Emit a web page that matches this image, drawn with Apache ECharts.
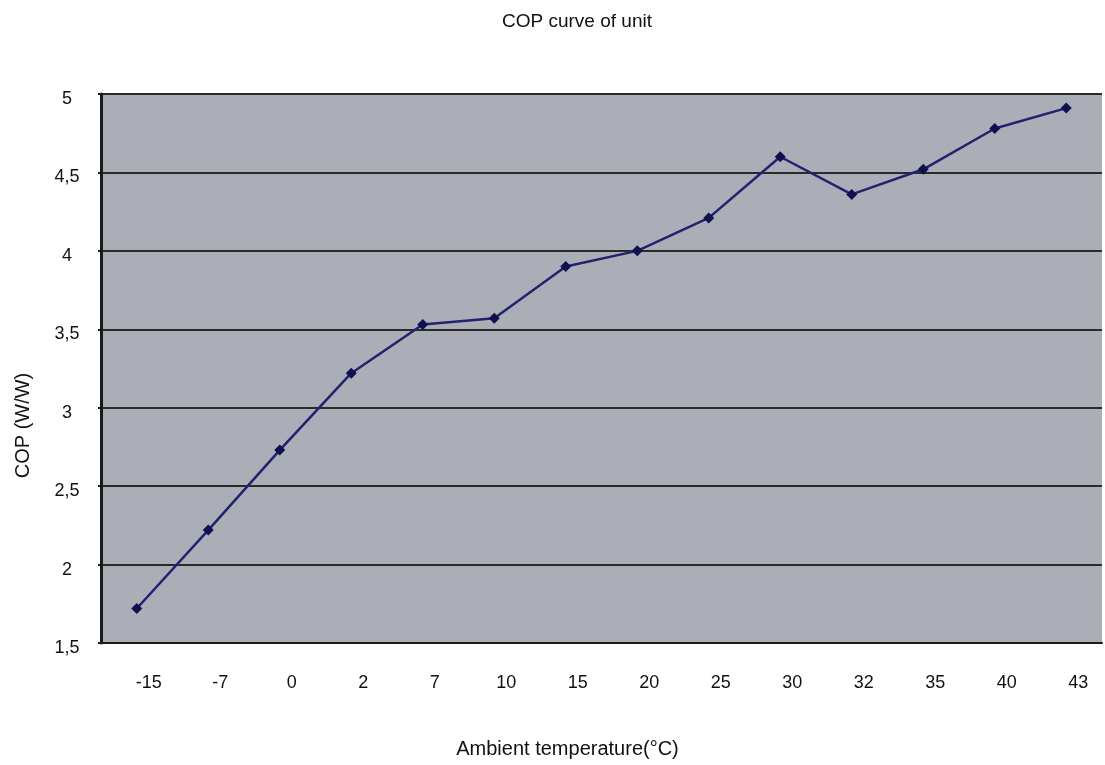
<!DOCTYPE html>
<html>
<head>
<meta charset="utf-8">
<script src="https://cdn.jsdelivr.net/npm/echarts@6/dist/echarts.min.js"></script>
<style>
html,body{margin:0;padding:0;background:#fff;}
#chart{width:1105px;height:765px;}
</style>
</head>
<body>
<div id="chart"></div>
<script>
const categories = ['-15', '-7', '0', '2', '7', '10', '15', '20', '25', '30', '32', '35', '40', '43'];
const copValues = [1.72, 2.22, 2.73, 3.22, 3.53, 3.57, 3.90, 4.00, 4.21, 4.60, 4.36, 4.52, 4.78, 4.91];
const yTicks = [1.5, 2, 2.5, 3, 3.5, 4, 4.5, 5];

const chart = echarts.init(document.getElementById('chart'));
const font = 'Liberation Sans, Arial, sans-serif';
chart.setOption({
  backgroundColor: '#ffffff',
  animation: false,
  title: {
    text: 'COP curve of unit',
    left: 502,
    top: 12,
    padding: 0,
    textStyle: { fontFamily: font, fontSize: 19, fontWeight: 'normal', color: '#111' }
  },
  grid: { left: 101, right: 3, top: 94, bottom: 122, show: true, backgroundColor: '#abaeb7', borderWidth: 0 },
  xAxis: {
    type: 'category',
    data: categories,
    boundaryGap: true,
    name: 'Ambient temperature(°C)',
    nameLocation: 'middle',
    nameGap: 96,
    nameTextStyle: { fontFamily: font, fontSize: 20, color: '#111', padding: [0, 68, 0, 0] },
    axisLine: { lineStyle: { color: '#1a1a1a', width: 2 } },
    axisTick: { inside: true, length: 7, lineStyle: { color: '#1a1a1a', width: 2 } },
    axisLabel: { fontFamily: font, fontSize: 18, color: '#111', margin: 31, padding: [0, 0, 0, 24] },
    splitLine: { show: false }
  },
  yAxis: {
    type: 'value',
    min: yTicks[0],
    max: yTicks[yTicks.length - 1],
    interval: 0.5,
    name: 'COP (W/W)',
    nameLocation: 'middle',
    nameRotate: 90,
    nameGap: 68,
    nameTextStyle: { fontFamily: font, fontSize: 20, color: '#111', padding: [0, 114, 0, 0] },
    axisLine: { show: true, lineStyle: { color: '#1a1a1a', width: 3 } },
    axisTick: { show: true, length: 3, lineStyle: { color: '#1a1a1a', width: 2 } },
    axisLabel: {
      fontFamily: font, fontSize: 18, color: '#111', margin: 34, align: 'center',
      verticalAlign: 'top', lineHeight: 10,
      formatter: v => String(v).replace('.', ',')
    },
    splitLine: { show: true, lineStyle: { color: '#2a2a2a', width: 2 } }
  },
  series: [{
    type: 'line',
    data: copValues,
    symbol: 'diamond',
    symbolSize: 11,
    lineStyle: { color: '#22226e', width: 2.5 },
    itemStyle: { color: '#10104e', borderWidth: 0 }
  }]
});
</script>
</body>
</html>
